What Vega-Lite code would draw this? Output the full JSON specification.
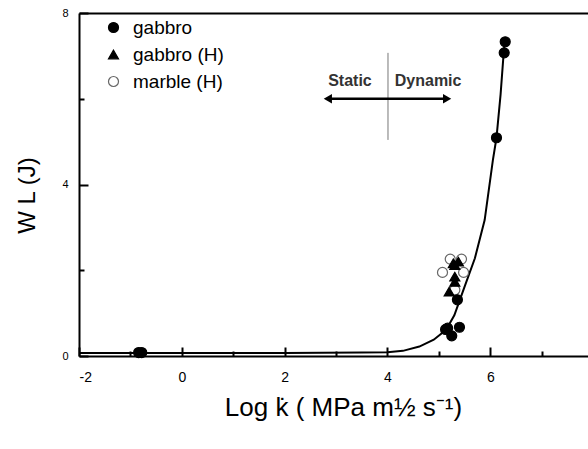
{
  "$schema": "https://vega.github.io/schema/vega-lite/v6.json",
  "width": 509,
  "height": 343,
  "autosize": {"type": "none"},
  "padding": {"left": 79, "top": 13, "right": 0, "bottom": 93},
  "datasets": {
    "curve": [
      {"x": -2, "y": 0.07}, {"x": 0, "y": 0.07}, {"x": 2, "y": 0.07}, {"x": 3.5, "y": 0.08},
      {"x": 4.0, "y": 0.09}, {"x": 4.3, "y": 0.12}, {"x": 4.62, "y": 0.22}, {"x": 4.9, "y": 0.38},
      {"x": 5.14, "y": 0.61}, {"x": 5.3, "y": 0.95}, {"x": 5.5, "y": 1.62}, {"x": 5.7, "y": 2.28},
      {"x": 5.89, "y": 3.17}, {"x": 6.05, "y": 4.57}, {"x": 6.12, "y": 5.09}, {"x": 6.2, "y": 6.1},
      {"x": 6.26, "y": 7.07}, {"x": 6.29, "y": 7.4}
    ],
    "points": [
      {"series": "marble (H)", "x": 5.07, "y": 1.95},
      {"series": "marble (H)", "x": 5.22, "y": 2.26},
      {"series": "marble (H)", "x": 5.44, "y": 2.26},
      {"series": "marble (H)", "x": 5.48, "y": 1.95},
      {"series": "marble (H)", "x": 5.31, "y": 1.54},
      {"series": "gabbro (H)", "x": 5.31, "y": 2.12},
      {"series": "gabbro (H)", "x": 5.28, "y": 2.16},
      {"series": "gabbro (H)", "x": 5.38, "y": 2.2},
      {"series": "gabbro (H)", "x": 5.31, "y": 1.85},
      {"series": "gabbro (H)", "x": 5.31, "y": 1.73},
      {"series": "gabbro (H)", "x": 5.2, "y": 1.5},
      {"series": "gabbro", "x": -0.84, "y": 0.08},
      {"series": "gabbro", "x": -0.78, "y": 0.08},
      {"series": "gabbro", "x": 5.13, "y": 0.62},
      {"series": "gabbro", "x": 5.17, "y": 0.65},
      {"series": "gabbro", "x": 5.25, "y": 0.47},
      {"series": "gabbro", "x": 5.4, "y": 0.67},
      {"series": "gabbro", "x": 5.36, "y": 1.31},
      {"series": "gabbro", "x": 6.12, "y": 5.09},
      {"series": "gabbro", "x": 6.27, "y": 7.07},
      {"series": "gabbro", "x": 6.29, "y": 7.33}
    ],
    "divider": [{"x": 4.01, "y": 5.04, "y2": 7.07}],
    "arrow": [{"x": 2.85, "x2": 5.15, "y": 6.0}],
    "heads": [{"x": 2.84, "y": 6.0, "dir": "left"}, {"x": 5.16, "y": 6.0, "dir": "right"}],
    "labels": [{"x": 3.27, "y": 6.42, "text": "Static"}, {"x": 4.79, "y": 6.42, "text": "Dynamic"}]
  },
  "layer": [
    {
      "data": {"name": "curve"},
      "mark": {"type": "line", "color": "black", "strokeWidth": 2, "clip": true},
      "encoding": {
        "x": {
          "field": "x", "type": "quantitative",
          "scale": {"domain": [-2, 7.9], "nice": false},
          "axis": {
            "orient": "bottom",
            "values": [-2, 0, 2, 4, 6],
            "labelExpr": "replace(datum.label, '−', '-')",
            "ticks": true, "tickSize": -9, "tickColor": "black", "tickWidth": 2,
            "labelFontSize": 14, "labelPadding": 23,
            "title": "Log k̇  ( MPa m½ s⁻¹)",
            "titleFontSize": 26, "titleX": 264, "titleY": 59, "titleAlign": "center", "titleBaseline": "alphabetic"
          }
        },
        "y": {
          "field": "y", "type": "quantitative",
          "scale": {"domain": [0, 8], "nice": false},
          "axis": {
            "orient": "left",
            "values": [0, 4, 8],
            "ticks": true, "tickSize": -9, "tickColor": "black", "tickWidth": 2,
            "labelFontSize": 11, "labelPadding": 20,
            "title": "W L  (J)",
            "titleFontSize": 24, "titleX": -52, "titleY": 182, "titleAlign": "center", "titleBaseline": "middle"
          }
        }
      }
    },
    {
      "data": {"name": "divider"},
      "mark": {"type": "rule", "color": "#777", "strokeWidth": 1},
      "encoding": {
        "x": {"field": "x", "type": "quantitative", "axis": {"orient": "top", "labels": false, "ticks": false, "title": null, "domainWidth": 2}},
        "y": {"field": "y", "type": "quantitative", "axis": null},
        "y2": {"field": "y2"}
      }
    },
    {
      "data": {"name": "arrow"},
      "mark": {"type": "rule", "color": "black", "strokeWidth": 2.5},
      "encoding": {
        "x": {"field": "x", "type": "quantitative", "axis": {"orient": "bottom", "values": [-1, 1, 3, 5, 7], "ticks": true, "tickSize": -5, "tickColor": "black", "tickWidth": 2, "labels": false, "domain": false, "title": null}},
        "x2": {"field": "x2"},
        "y": {"field": "y", "type": "quantitative", "axis": {"orient": "left", "values": [2, 6], "ticks": true, "tickSize": -5, "tickColor": "black", "tickWidth": 2, "labels": false, "domain": false, "title": null}}
      }
    },
    {
      "data": {"name": "heads"},
      "transform": [{"filter": "datum.dir == 'left'"}],
      "mark": {"type": "point", "shape": "triangle-left", "filled": true, "color": "black", "opacity": 1, "size": 90},
      "encoding": {
        "x": {"field": "x", "type": "quantitative", "axis": null},
        "y": {"field": "y", "type": "quantitative", "axis": null}
      }
    },
    {
      "data": {"name": "heads"},
      "transform": [{"filter": "datum.dir == 'right'"}],
      "mark": {"type": "point", "shape": "triangle-right", "filled": true, "color": "black", "opacity": 1, "size": 90},
      "encoding": {
        "x": {"field": "x", "type": "quantitative", "axis": null},
        "y": {"field": "y", "type": "quantitative", "axis": null}
      }
    },
    {
      "data": {"name": "labels"},
      "mark": {"type": "text", "fontSize": 16, "fontWeight": "bold", "color": "#333", "baseline": "middle", "align": "center"},
      "encoding": {
        "x": {"field": "x", "type": "quantitative", "axis": null},
        "y": {"field": "y", "type": "quantitative", "axis": null},
        "text": {"field": "text"}
      }
    },
    {
      "data": {"name": "points"},
      "mark": {"type": "point", "opacity": 1, "size": 100, "strokeWidth": 1.2},
      "encoding": {
        "x": {"field": "x", "type": "quantitative", "axis": null},
        "y": {"field": "y", "type": "quantitative", "axis": null},
        "shape": {"field": "series", "type": "nominal", "scale": {"domain": ["gabbro", "gabbro (H)", "marble (H)"], "range": ["circle", "triangle-up", "circle"]}, "legend": {"title": null}},
        "fill": {"field": "series", "type": "nominal", "scale": {"domain": ["gabbro", "gabbro (H)", "marble (H)"], "range": ["black", "black", "white"]}, "legend": {"title": null}},
        "stroke": {"field": "series", "type": "nominal", "scale": {"domain": ["gabbro", "gabbro (H)", "marble (H)"], "range": ["black", "black", "#666"]}, "legend": {"title": null}}
      }
    }
  ],
  "resolve": {"axis": {"x": "independent", "y": "independent"}},
  "config": {
    "font": "Liberation Sans",
    "view": {"stroke": null},
    "axis": {"grid": false, "domainColor": "black", "domainWidth": 2, "tickColor": "black", "tickWidth": 2, "labelColor": "black", "titleColor": "black", "titleFontWeight": "normal"},
    "legend": {"orient": "none", "legendX": 25, "legendY": 5, "padding": 0, "labelFontSize": 19, "labelFontWeight": "normal", "labelColor": "black", "symbolSize": 100, "labelOffset": 10, "rowPadding": 7, "symbolStrokeWidth": 1.2}
  }
}
